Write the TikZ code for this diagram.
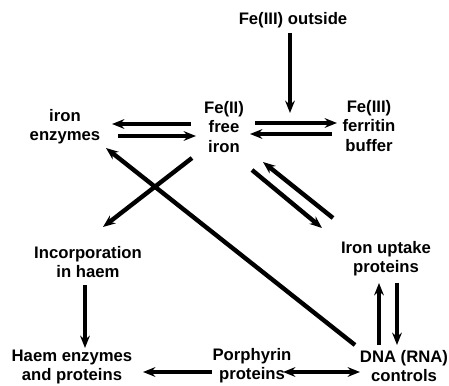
\documentclass[tikz,border=0pt]{standalone}
\usepackage{fontspec}
\setmainfont{Liberation Sans}
\usetikzlibrary{arrows.meta}

\begin{document}
\begin{tikzpicture}[x=0.02cm, y=-0.02cm,
    lbl/.style={font=\bfseries\fontsize{9.5}{11}\selectfont, align=center, inner sep=0pt},
    arr/.style={line width=2.5pt, -{Stealth[length=7pt, width=5.5pt]}},
    darr/.style={line width=2.5pt, {Stealth[length=7pt, width=5.5pt]}-{Stealth[length=7pt, width=5.5pt]}}]
    \useasboundingbox (0,0) rectangle (449,385);

    % Eisen-Pools und Proteine
    \node[lbl] (out)  at (293,20)  {Fe(III) outside};
    \node[lbl] (free) at (224,127) {Fe(II)\\free\\iron};
    \node[lbl] (ferr) at (369,126) {Fe(III)\\ferritin\\buffer};
    \node[lbl] (enz)  at (65,127)  {iron\\enzymes};
    \node[lbl] (inc)  at (88,262)  {Incorporation\\in haem};
    \node[lbl] (upt)  at (386,259) {Iron uptake\\proteins};
    \node[lbl] (haem) at (72,367)  {Haem enzymes\\and proteins};
    \node[lbl] (por)  at (252,366) {Porphyrin\\proteins};
    \node[lbl] (dna)  at (404,366) {DNA (RNA)\\controls};
    \coordinate (inlet) at (290,113);

    % Zufluss von aussen
    \draw[arr] ([shift={(-3,13)}]out.center) -- (inlet);

    % Gleichgewichte um das freie Eisen
    \draw[arr] ([shift={(-33,-3)}]free.center) -- ([shift={(47,-3)}]enz.center);
    \draw[arr] ([shift={(53,9)}]enz.center) -- ([shift={(-28,9)}]free.center);
    \draw[arr] ([shift={(31,-4)}]free.center) -- ([shift={(-32,-3)}]ferr.center);
    \draw[arr] ([shift={(-37,8)}]ferr.center) -- ([shift={(26,7)}]free.center);

    % Diagonalen
    \draw[arr] ([shift={(-32,31)}]free.center) -- ([shift={(15,-35)}]inc.center);
    \draw[arr] ([shift={(-49,-21)}]dna.center) -- ([shift={(41,21)}]enz.center);
    \draw[arr] ([shift={(28,43)}]free.center) -- ([shift={(-64,-31)}]upt.center);
    \draw[arr] ([shift={(-53,-41)}]upt.center) -- ([shift={(39,35)}]free.center);

    % untere Ebene
    \draw[arr] ([shift={(-3,23)}]inc.center) -- ([shift={(13,-19)}]haem.center);
    \draw[arr] ([shift={(-25,-21)}]dna.center) -- ([shift={(-7,24)}]upt.center);
    \draw[arr] ([shift={(11,24)}]upt.center) -- ([shift={(-7,-21)}]dna.center);
    \draw[arr] ([shift={(-40,6)}]por.center) -- ([shift={(71,5)}]haem.center);
    \draw[darr] ([shift={(31,6)}]por.center) -- ([shift={(-44,6)}]dna.center);
\end{tikzpicture}
\end{document}
